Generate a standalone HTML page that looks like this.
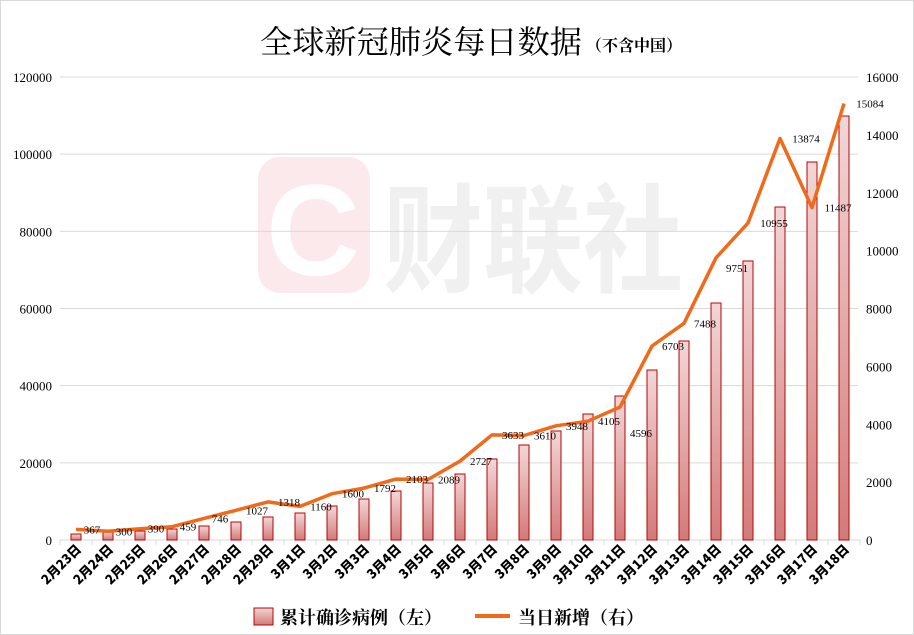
<!DOCTYPE html>
<html><head><meta charset="utf-8"><style>
html,body{margin:0;padding:0;background:#fff;}
svg{display:block;font-family:"Liberation Serif","Noto Serif CJK SC",serif;}
</style></head><body>
<svg id="c" width="914" height="635" viewBox="0 0 914 635" xmlns="http://www.w3.org/2000/svg">
<defs>
<linearGradient id="bg" x1="0" y1="0" x2="0" y2="1"><stop offset="0" stop-color="#f0d8d8"/><stop offset="1" stop-color="#d27a7a"/></linearGradient>
</defs>
<rect x="0.5" y="0.5" width="913" height="634" fill="#fff" stroke="#d9d9d9"/>
<rect x="258" y="157" width="112" height="136" rx="22" fill="#fbe9ec"/>
<text x="313" y="275" text-anchor="middle" font-family="Liberation Sans,sans-serif" font-weight="bold" font-size="130" fill="#fff">C</text>
<text x="383" y="283" font-family="Noto Sans CJK SC,sans-serif" font-weight="bold" font-size="118" fill="#f0f0f0" textLength="300" lengthAdjust="spacingAndGlyphs">财联社</text>
<g id="g"></g>
<text x="260" y="53" font-size="32" fill="#000" font-family="Liberation Serif,Noto Serif CJK SC,serif" textLength="322" lengthAdjust="spacingAndGlyphs">全球新冠肺炎每日数据</text>
<text x="586" y="51" font-size="16" fill="#000" font-weight="bold" font-family="Liberation Serif,Noto Serif CJK SC,serif">（不含中国）</text>
<rect x="254" y="608" width="19" height="17" fill="url(#bg)" stroke="#c00000"/>
<text x="280" y="624" font-size="18" font-weight="bold" font-family="Liberation Serif,Noto Serif CJK SC,serif">累计确诊病例（左）</text>
<line x1="475" y1="616" x2="510" y2="616" stroke="#f06a1a" stroke-width="4"/>
<text x="518" y="624" font-size="18" font-weight="bold" font-family="Liberation Serif,Noto Serif CJK SC,serif">当日新增（右）</text>
</svg>
<script>
var g=document.getElementById('g'),s='';
var base=540,top0=77,H=base-top0;
for(var k=0;k<=6;k++){var y=base-k*H/6;
 if(k>0)s+='<line x1="60" y1="'+y+'" x2="858" y2="'+y+'" stroke="#d9d9d9"/>';
 s+='<text x="52" y="'+(y+5)+'" text-anchor="end" font-size="13" font-family="Liberation Serif,serif">'+(k*20000)+'</text>';
}
for(var k=0;k<=8;k++){var y=base-k*H/8;
 s+='<text x="866" y="'+(y+5)+'" font-size="13" font-family="Liberation Serif,serif">'+(k*2000)+'</text>';}
s+='<line x1="60" y1="540" x2="860" y2="540" stroke="#d9d9d9"/>';
var cats=[],i;
for(i=23;i<=29;i++)cats.push('2月'+i+'日');
for(i=1;i<=18;i++)cats.push('3月'+i+'日');
var tops=[534,531,531,529,526,522,517,513,506,499,491,483,474,459,445,431,414,396,370,341,303,261,207,162,116];
var v=[367,300,390,459,746,1027,1318,1160,1600,1792,2103,2089,2727,3633,3610,3948,4105,4596,6703,7488,9751,10955,13874,11487,15084];
for(i=0;i<=25;i++){var x=60+i*32;s+='<line x1="'+x+'" y1="540" x2="'+x+'" y2="545" stroke="#d9d9d9"/>';}
var pts=[];
for(i=0;i<25;i++){var cx=76+i*32;
 s+='<rect x="'+(cx-5)+'" y="'+tops[i]+'" width="10" height="'+(540-tops[i])+'" fill="url(#bg)" stroke="#c00000" stroke-width="1"/>';
 var ly=base-v[i]/16000*H;pts.push(cx+','+ly.toFixed(1));
 s+='<text transform="translate('+(cx+6)+',550) rotate(-45)" text-anchor="end" font-size="13" font-weight="900" font-family="Noto Sans CJK SC,sans-serif">'+cats[i]+'</text>';
}
s+='<polyline points="'+pts.join(' ')+'" fill="none" stroke="#f06a1a" stroke-width="3.5" stroke-linejoin="round"/>';
for(i=0;i<25;i++){var cx=76+i*32,ly=base-v[i]/16000*H;
 var d=String(v[i]).length;
 var lx=cx+(d==5?26:d==4?21:16),lyy=ly+4;
 if(i==17)lyy=ly+30; if(i==20)lyy=ly+14;
 s+='<text x="'+lx+'" y="'+lyy.toFixed(1)+'" text-anchor="middle" font-size="11" font-family="Liberation Serif,serif">'+v[i]+'</text>';
}
g.innerHTML=s;
</script>
</body></html>
